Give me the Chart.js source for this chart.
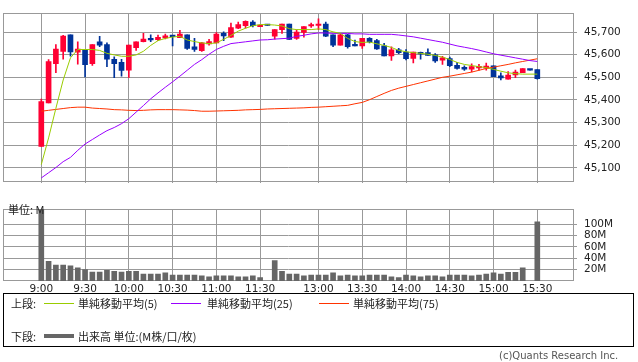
<!DOCTYPE html>
<html lang="ja">
<head>
<meta charset="utf-8">
<title>日中足チャート</title>
<script src="https://cdn.jsdelivr.net/npm/chart.js@4"></script>
<style>
	body { margin: 0; background: #fff; width: 638px; height: 362px; overflow: hidden; position: relative; font-family: "Noto Sans CJK JP", sans-serif; color: #222; }
	#priceWrap { position: absolute; left: 0; top: 0; }
	#volWrap { position: absolute; left: 0; top: 196px; }
	.unit { position: absolute; left: 8px; top: 202px; font-size: 11px; line-height: 14px; }
	.legend { position: absolute; left: 3px; top: 293px; width: 631px; height: 54px; border: 1px solid #000; box-sizing: border-box; font-size: 11px; }
	.legend span { position: absolute; line-height: 14px; white-space: nowrap; }
	.legend i { position: absolute; display: block; }
	.copy { position: absolute; left: 499px; top: 350px; font-size: 10px; color: #555; font-family: "DejaVu Sans", sans-serif; }
</style>
</head>
<body>
<div id="priceWrap"><canvas id="priceChart" width="638" height="196"></canvas></div>
<div id="volWrap"><canvas id="volChart" width="638" height="100"></canvas></div>
<div class="unit">単位: M</div>
<div class="legend">
	<span style="left:7px;top:2px">上段:</span>
	<i style="left:40px;top:9px;width:30px;height:1px;background:#99cc00"></i>
	<span style="left:74px;top:2px">単純移動平均(5)</span>
	<i style="left:167px;top:9px;width:30px;height:1px;background:#9900ff"></i>
	<span style="left:203px;top:2px">単純移動平均(25)</span>
	<i style="left:315px;top:9px;width:30px;height:1px;background:#ff3300"></i>
	<span style="left:349px;top:2px">単純移動平均(75)</span>
	<span style="left:7px;top:35px">下段:</span>
	<i style="left:40px;top:40px;width:30px;height:4px;background:#666"></i>
	<span style="left:74px;top:35px">出来高 単位:(M株/口/枚)</span>
</div>
<div class="copy">(c)Quants Research Inc.</div>

<script>
// 5-minute bars, index 0 = 9:00 ... index 68 = 15:30 (lunch break compressed)
const opens = [45194, 45387, 45560, 45615, 45688, 45611, 45619, 45560, 45657, 45645, 45580, 45566, 45531, 45631, 45658, 45672, 45666, 45674, 45682, 45675, 45688, 45635, 45618, 45648, 45652, 45694, 45678, 45717, 45728, 45744, 45724, 45733, 45682, 45711, 45735, 45672, 45698, 45727, 45729, 45735, 45688, 45642, 45688, 45645, 45639, 45672, 45662, 45639, 45595, 45622, 45612, 45583, 45610, 45609, 45599, 45576, 45583, 45553, 45544, 45536, 45542, 45540, 45551, 45507, 45492, 45510, 45520, 45535, 45534];
const highs = [45404, 45578, 45645, 45686, 45688, 45657, 45619, 45645, 45681, 45652, 45590, 45580, 45642, 45657, 45694, 45688, 45687, 45691, 45683, 45708, 45688, 45672, 45655, 45668, 45698, 45701, 45740, 45744, 45750, 45751, 45731, 45733, 45711, 45735, 45735, 45710, 45724, 45740, 45759, 45744, 45688, 45692, 45690, 45665, 45672, 45676, 45668, 45650, 45635, 45628, 45623, 45612, 45612, 45626, 45605, 45593, 45589, 45566, 45551, 45560, 45557, 45563, 45551, 45520, 45525, 45532, 45539, 45535, 45534];
const lows = [45194, 45387, 45520, 45580, 45593, 45558, 45502, 45552, 45635, 45547, 45498, 45505, 45500, 45619, 45656, 45658, 45662, 45670, 45639, 45675, 45623, 45615, 45615, 45642, 45652, 45662, 45676, 45715, 45717, 45723, 45724, 45729, 45669, 45694, 45668, 45668, 45678, 45721, 45711, 45680, 45636, 45642, 45629, 45639, 45628, 45652, 45623, 45595, 45575, 45605, 45577, 45564, 45580, 45597, 45566, 45557, 45547, 45536, 45530, 45524, 45531, 45531, 45503, 45488, 45492, 45498, 45520, 45532, 45492];
const closes = [45393, 45570, 45625, 45682, 45612, 45625, 45556, 45645, 45642, 45580, 45560, 45530, 45642, 45657, 45669, 45665, 45677, 45683, 45680, 45691, 45628, 45623, 45652, 45658, 45691, 45683, 45720, 45733, 45748, 45728, 45731, 45729, 45711, 45735, 45668, 45700, 45724, 45731, 45733, 45682, 45642, 45688, 45636, 45639, 45672, 45656, 45626, 45595, 45622, 45609, 45582, 45612, 45603, 45597, 45573, 45586, 45551, 45539, 45536, 45547, 45545, 45550, 45503, 45497, 45510, 45523, 45539, 45532, 45494];

const ma5 = [45114, 45232, 45363, 45488, 45586, 45623, 45623, 45623, 45619, 45606, 45599, 45593, 45593, 45599, 45615, 45641, 45662, 45672, 45678, 45681, 45665, 45658, 45652, 45649, 45652, 45668, 45685, 45704, 45717, 45728, 45733, 45733, 45731, 45727, 45715, 45711, 45711, 45711, 45714, 45711, 45701, 45694, 45672, 45658, 45654, 45656, 45648, 45641, 45632, 45619, 45613, 45609, 45606, 45602, 45597, 45589, 45579, 45566, 45557, 45552, 45547, 45543, 45535, 45527, 45520, 45516, 45514, 45514, 45514];
const ma25 = [45055, 45078, 45101, 45127, 45146, 45177, 45205, 45225, 45245, 45264, 45278, 45295, 45317, 45346, 45375, 45405, 45431, 45456, 45480, 45505, 45531, 45557, 45578, 45602, 45623, 45637, 45649, 45653, 45657, 45661, 45665, 45666, 45669, 45671, 45673, 45681, 45686, 45692, 45696, 45696, 45694, 45694, 45694, 45692, 45692, 45690, 45690, 45690, 45690, 45687, 45683, 45679, 45673, 45667, 45661, 45655, 45647, 45639, 45633, 45627, 45620, 45612, 45604, 45598, 45592, 45586, 45580, 45574, 45570];
const ma75 = [45350, 45354, 45358, 45362, 45366, 45368, 45368, 45364, 45362, 45360, 45357, 45356, 45354, 45353, 45354, 45356, 45357, 45357, 45357, 45356, 45355, 45353, 45350, 45350, 45351, 45352, 45353, 45354, 45356, 45357, 45358, 45360, 45361, 45362, 45363, 45364, 45365, 45367, 45368, 45370, 45372, 45374, 45376, 45383, 45389, 45401, 45415, 45429, 45442, 45452, 45460, 45468, 45476, 45484, 45492, 45500, 45505, 45511, 45517, 45523, 45531, 45539, 45545, 45551, 45557, 45564, 45570, 45576, 45582];

// volume in millions (first bar runs off the top of the panel)
const volumes = [130, 34.4, 28, 28, 26.5, 23.3, 20, 15.5, 15.5, 18.6, 17, 15.5, 17, 17, 12.2, 12.2, 12.2, 14.3, 10.6, 10.6, 10.6, 10.6, 9, 7.4, 9, 9, 9, 7.4, 7.4, 9, 5.8, null, 36, 17, 12.2, 12.2, 9, 10.6, 10.6, 10.6, 14.3, 9, 10.6, 9, 9, 10.6, 10.6, 10.6, 7.4, 5.8, 10.6, 9, 7.4, 9, 9, 7.4, 10.6, 10.6, 10.6, 9, 10.6, 12.2, 14.3, 12.2, 15.4, 15.4, 23.3, null, 104];

const timeTicks = [0, 6, 12, 18, 24, 30, 38, 44, 50, 56, 62, 68];
const timeLabels = ["9:00", "9:30", "10:00", "10:30", "11:00", "11:30", "13:00", "13:30", "14:00", "14:30", "15:00", "15:30"];
const priceTicks = [45100, 45200, 45300, 45400, 45500, 45600, 45700];
const volumeTicks = [20, 40, 60, 80, 100];

const UP = "#ff0033";
const DOWN = "#003399";
const GRID = "#999999";

document.addEventListener("DOMContentLoaded", function () {
	const xMin = -5.25;
	const xMax = 73.03;

	// plot frame
	const framePlugin = {
		id: "frame",
		beforeDatasetsDraw(chart) {
			const a = chart.chartArea;
			const ctx = chart.ctx;
			ctx.save();
			ctx.strokeStyle = GRID;
			ctx.lineWidth = 1;
			ctx.strokeRect(Math.round(a.left) + 0.5, Math.round(a.top) + 0.5, Math.round(a.right - a.left) - 1, Math.round(a.bottom - a.top) - 1);
			ctx.restore();
		},
	};

	const candleColor = (ctx) => (closes[ctx.dataIndex] >= opens[ctx.dataIndex] ? UP : DOWN);
	const line = (label, values, color) => ({
		type: "line",
		label: label,
		data: values.map((v, i) => ({ x: i, y: v })),
		borderColor: color,
		borderWidth: 1,
		pointRadius: 0,
		tension: 0,
		order: 0,
	});

	new Chart(document.getElementById("priceChart"), {
		type: "bar",
		data: {
			datasets: [
				line("単純移動平均(5)", ma5, "#99cc00"),
				line("単純移動平均(25)", ma25, "#9900ff"),
				line("単純移動平均(75)", ma75, "#ff3300"),
				{
					label: "wick",
					data: lows.map((l, i) => ({ x: i, y: [l, highs[i]] })),
					backgroundColor: candleColor,
					barThickness: 1,
					grouped: false,
					order: 2,
				},
				{
					label: "body",
					data: opens.map((o, i) => ({ x: i, y: [o, closes[i]] })),
					backgroundColor: candleColor,
					barThickness: 5,
					minBarLength: 1.5,
					grouped: false,
					order: 1,
				},
			],
		},
		options: {
			responsive: false,
			animation: false,
			layout: { padding: { left: 3, top: 1, right: 0, bottom: 6 } },
			plugins: { legend: { display: false }, tooltip: { enabled: false } },
			scales: {
				x: {
					type: "linear",
					min: xMin,
					max: xMax,
					offset: false,
					afterBuildTicks: (scale) => { scale.ticks = timeTicks.map((v) => ({ value: v })); },
					afterFit: (scale) => { scale.height = 0; },
					ticks: { display: false },
					grid: { color: GRID, drawTicks: false, offset: false },
					border: { display: false },
				},
				y: {
					position: "right",
					min: 45034,
					max: 45783,
					afterBuildTicks: (scale) => { scale.ticks = priceTicks.map((v) => ({ value: v })); },
					afterFit: (scale) => { scale.width = 64; },
					ticks: {
						padding: 7,
						color: "#222",
						font: { family: "DejaVu Sans", size: 10.5 },
						callback: (v) => v.toLocaleString("en-US"),
					},
					grid: { color: GRID, tickLength: 3 },
					border: { display: false },
				},
			},
		},
		plugins: [framePlugin],
	});

	new Chart(document.getElementById("volChart"), {
		type: "bar",
		data: {
			datasets: [
				{
					label: "出来高",
					data: volumes.map((v, i) => ({ x: i, y: v })),
					backgroundColor: "#666666",
					barThickness: 5,
				},
			],
		},
		options: {
			responsive: false,
			animation: false,
			layout: { padding: { left: 3, top: 5, right: 0, bottom: 0 } },
			plugins: { legend: { display: false }, tooltip: { enabled: false } },
			scales: {
				x: {
					type: "linear",
					min: xMin,
					max: xMax,
					offset: false,
					afterBuildTicks: (scale) => { scale.ticks = timeTicks.map((v) => ({ value: v })); },
					afterFit: (scale) => { scale.height = 15; },
					ticks: {
						autoSkip: false,
						maxRotation: 0,
						padding: 2,
						color: "#222",
						font: { family: "DejaVu Sans", size: 10.5 },
						callback: (v) => timeLabels[timeTicks.indexOf(v)],
					},
					grid: { color: GRID, drawTicks: false, offset: false },
					border: { display: false },
				},
				y: {
					position: "right",
					min: 0,
					max: 126,
					afterBuildTicks: (scale) => { scale.ticks = volumeTicks.map((v) => ({ value: v })); },
					afterFit: (scale) => { scale.width = 64; },
					ticks: {
						padding: 7,
						color: "#222",
						font: { family: "DejaVu Sans", size: 10.5 },
						callback: (v) => v + "M",
					},
					grid: { color: GRID, tickLength: 3 },
					border: { display: false },
				},
			},
		},
		plugins: [framePlugin],
	});
});
</script>
</body>
</html>
